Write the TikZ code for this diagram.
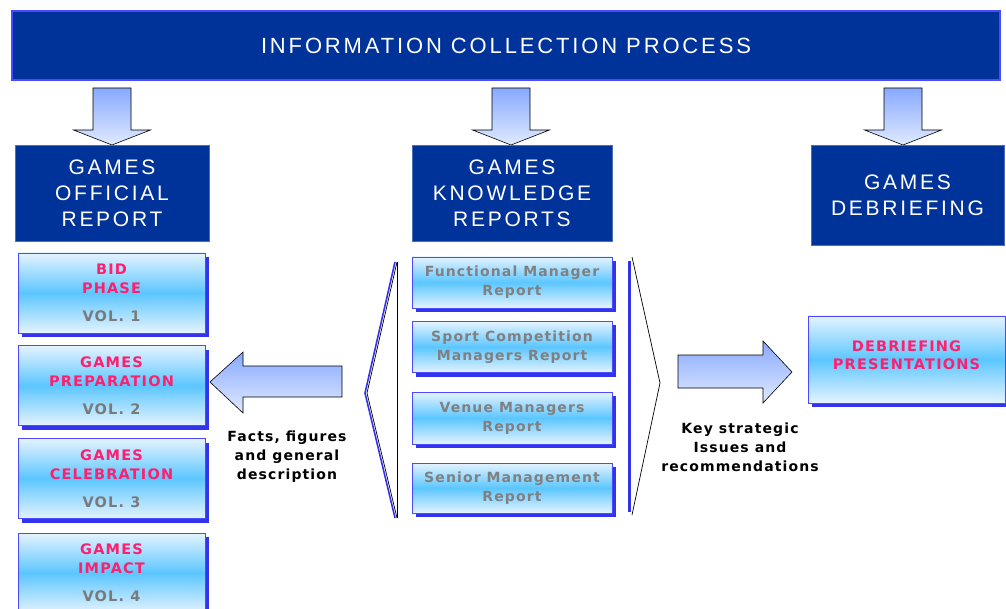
\documentclass[tikz,border=0pt]{standalone}
\usepackage{fontspec}
\usetikzlibrary{shadows}
\newfontfamily\hfont[LetterSpace=13]{Liberation Sans}
\newfontfamily\vfont[LetterSpace=8]{DejaVu Sans}
\definecolor{navy}{HTML}{003399}
\definecolor{edgeblue}{HTML}{4A4AFF}
\definecolor{shadowblue}{HTML}{3333EE}
\definecolor{pinktxt}{HTML}{FF1F6F}
\definecolor{volgray}{HTML}{7A7A7A}
\definecolor{midgray}{HTML}{808080}
\definecolor{gradlight}{HTML}{E4F3FF}
\definecolor{gradmid}{HTML}{5CC6FF}
\definecolor{arrowtop}{HTML}{88A9FF}
\definecolor{arrowbot}{HTML}{E0EAFF}
\begin{document}
\begin{tikzpicture}[x=1pt,y=-1pt,
  banner/.style={fill=navy,draw=edgeblue,line width=1.5pt,minimum width=988pt,minimum height=69pt,inner sep=0pt,text=white,font=\hfont\fontsize{22}{26}\selectfont},
  header/.style={fill=navy,draw=navy!70!white,line width=0.6pt,inner sep=0pt,text=white,align=center,font=\hfont\fontsize{21}{26}\selectfont},
  gradbox/.style={draw=edgeblue,line width=0.8pt,top color=gradlight,bottom color=gradlight,middle color=gradmid,inner sep=0pt,align=center,font=\vfont\bfseries\fontsize{14.5}{19}\selectfont,drop shadow={fill=shadowblue,opacity=1,shadow xshift=4pt,shadow yshift=-4pt}},
  volbox/.style={gradbox,text=pinktxt,minimum width=187pt,minimum height=80pt},
  knowbox/.style={gradbox,text=midgray,minimum width=200pt,minimum height=51pt,font=\vfont\bfseries\fontsize{14}{19}\selectfont},
  blockarrow/.style={draw=black,line width=0.6pt,top color=arrowtop,bottom color=arrowbot,line join=miter},
  caption/.style={align=center,text=black,inner sep=0pt,font=\vfont\bfseries\fontsize{14}{19}\selectfont},
  bracket/.style={draw=black,line width=0.7pt}
]
\clip (0,0) rectangle (1006,609);
\fill[white] (0,0) rectangle (1006,609);

\node[banner] (top) at (506,45.5) {INFORMATION COLLECTION PROCESS};

% down block arrows
\foreach \nm/\cx in {aL/112,aM/511,aR/903}{
  \coordinate (\nm) at (\cx,88);
  \path[blockarrow] (\nm) ++(-19,0) -- ++(38,0) -- ++(0,42) -- ++(19.5,0)
     -- ++(-38.5,15) -- ++(-38.5,-15) -- ++(19.5,0) -- cycle;
}

\node[header,minimum width=194pt,minimum height=96pt] (hOff) at (112,193) {GAMES\\OFFICIAL\\REPORT};
\node[header,minimum width=200pt,minimum height=96pt] (hKnow) at (512,193) {GAMES\\KNOWLEDGE\\REPORTS};
\node[header,minimum width=193pt,minimum height=100pt] (hDeb) at (907.5,195) {GAMES\\DEBRIEFING};

\node[volbox] (v1) at (111.5,293) {BID\\PHASE\\[9pt]\textcolor{volgray}{VOL. 1}};
\node[volbox] (v2) at (111.5,385.5) {GAMES\\PREPARATION\\[9pt]\textcolor{volgray}{VOL. 2}};
\node[volbox] (v3) at (111.5,478.5) {GAMES\\CELEBRATION\\[9pt]\textcolor{volgray}{VOL. 3}};
\node[volbox] (v4) at (111.5,573) {GAMES\\IMPACT\\[9pt]\textcolor{volgray}{VOL. 4}};

\node[knowbox] (k1) at (512,282.5) {Functional Manager\\Report};
\node[knowbox] (k2) at (512,347) {Sport Competition\\Managers Report};
\node[knowbox,minimum height=52pt] (k3) at (512,418) {Venue Managers\\Report};
\node[knowbox,minimum height=50pt] (k4) at (512,488) {Senior Management\\Report};

\node[gradbox,minimum width=197pt,minimum height=87pt] (dp) at (906.5,359.5) {};
\node[caption,text=pinktxt,font=\vfont\bfseries\fontsize{14.5}{18}\selectfont] (dpt) at (906.5,355) {DEBRIEFING\\PRESENTATIONS};

% left block arrow (pointing to the volumes)
\coordinate (aLeftTip) at (210,382);
\path[blockarrow] (aLeftTip) -- ++(33,-30) -- ++(0,14) -- ++(99,0) -- ++(0,31)
   -- ++(-99,0) -- ++(0,16) -- cycle;
% right block arrow (pointing to the presentations)
\coordinate (aRightTip) at (792,372);
\path[blockarrow] (aRightTip) -- ++(-29,-31) -- ++(0,14) -- ++(-85,0) -- ++(0,33)
   -- ++(85,0) -- ++(0,15) -- cycle;

\node[caption] (facts) at (287,457) {Facts, figures\\and general\\description};
\node[caption] (keys) at (740,447) {Key strategic\\Issues and\\recommendations};

% left bracket
\coordinate (lbT) at (397,262);
\coordinate (lbM) at (367,393);
\coordinate (lbB) at (397,518);
\draw[shadowblue,line width=1.6pt] ([xshift=-2pt]lbT) -- ([xshift=-2pt]lbM) -- ([xshift=-2pt]lbB);
\draw[bracket] (lbT) -- (lbM) -- (lbB);
\draw[bracket] (lbT) -- (lbB);
% right bracket
\coordinate (rbT) at (632,257);
\coordinate (rbM) at (660,383);
\coordinate (rbB) at (632,515);
\coordinate (rvT) at (629,261);
\coordinate (rvB) at (629,512);
\draw[shadowblue,line width=3pt] (rvT) -- (rvB);
\draw[bracket] (rbT) -- (rbM) -- (rbB);
\end{tikzpicture}
\end{document}
